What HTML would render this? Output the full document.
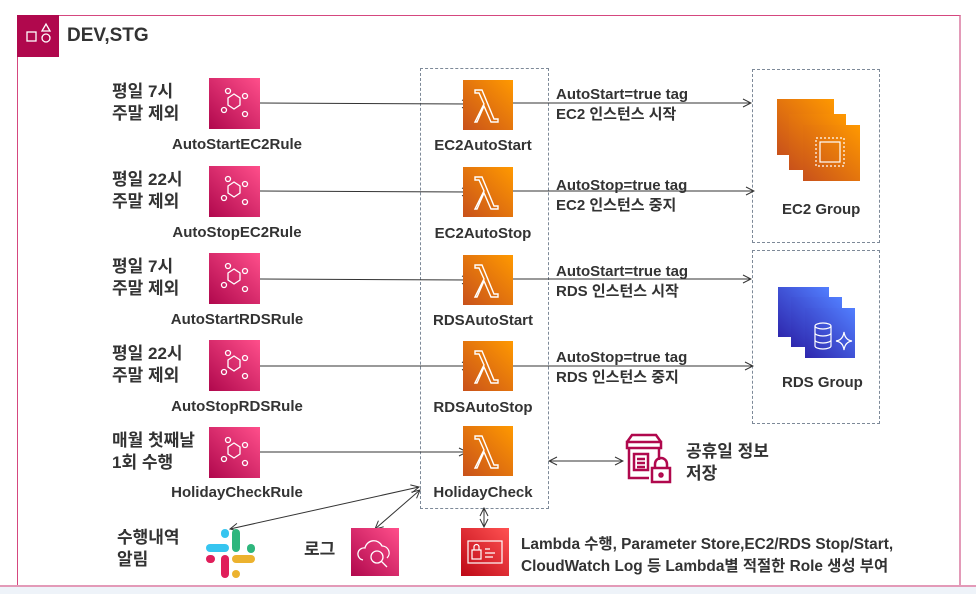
<!DOCTYPE html>
<html><head><meta charset="utf-8"><style>
body{margin:0;width:976px;height:592px;background:#fff;position:relative;overflow:hidden;font-family:"Liberation Sans","Noto Sans CJK KR",sans-serif;color:#232f3e}
.a{position:absolute}
.t{position:absolute;font-weight:bold;font-size:15px;color:#333;white-space:nowrap}
.k{position:absolute;font-weight:bold;font-size:17px;color:#333;line-height:22px;white-space:nowrap}
.ic{position:absolute;width:51px;height:51px}
.rule{background:linear-gradient(45deg,#b0084d,#ff4f8b)}
.lam{background:linear-gradient(45deg,#c8511b,#ff9900)}
.c{text-align:center;width:160px}
</style></head><body>
<div class="a" style="left:17px;top:15px;width:941px;height:569px;border:1px solid #d5477f;border-right:2px solid #e39ab8"></div>
<div class="a" style="left:0;top:585px;width:976px;height:7px;background:#eef3f9;border-top:2px solid #e39ab8"></div>
<div class="a" style="left:17px;top:15px;width:42px;height:42px;background:#b0084d"></div>
<svg class="a" style="left:17px;top:15px" width="42" height="42" fill="none" stroke="#fff" stroke-width="1.3"><rect x="10" y="17" width="9" height="9"/><path d="M25 16l4-7 4 7z"/><circle cx="29" cy="23" r="4"/></svg>
<div class="t" style="left:67px;top:25px;font-size:19px">DEV,STG</div>

<div class="a" style="left:420px;top:68px;width:127px;height:439px;border:1px dashed #7d8998"></div>
<div class="a" style="left:752px;top:69px;width:126px;height:172px;border:1px dashed #7d8998"></div>
<div class="a" style="left:752px;top:250px;width:126px;height:172px;border:1px dashed #7d8998"></div>

<svg class="a" style="left:0;top:0" width="976" height="592" fill="none" stroke="#333" stroke-width="1">
<defs><marker id="m" markerWidth="10" markerHeight="10" refX="9" refY="5" orient="auto-start-reverse"><path d="M1 1L9 5L1 9" stroke="#333" fill="none"/></marker></defs>
<g marker-end="url(#m)">
<line x1="260" y1="103" x2="470" y2="104"/>
<line x1="260" y1="191" x2="470" y2="192"/>
<line x1="260" y1="279" x2="470" y2="280"/>
<line x1="260" y1="366" x2="470" y2="366"/>
<line x1="260" y1="452" x2="467" y2="452"/>
<line x1="513" y1="103" x2="751" y2="103"/>
<line x1="513" y1="191" x2="754" y2="191"/>
<line x1="513" y1="279" x2="751" y2="279"/>
<line x1="513" y1="366" x2="753" y2="366"/>
</g>
<g marker-end="url(#m)" marker-start="url(#m)">
<line x1="549" y1="461" x2="623" y2="461"/>
<line x1="419" y1="487" x2="230" y2="529"/>
<line x1="420" y1="490" x2="375" y2="529"/>
<line x1="484" y1="508" x2="484" y2="527"/>
</g>
</svg>

<div class="ic rule" style="left:209px;top:78px"></div>
<div class="ic rule" style="left:209px;top:166px"></div>
<div class="ic rule" style="left:209px;top:253px"></div>
<div class="ic rule" style="left:209px;top:340px"></div>
<div class="ic rule" style="left:209px;top:427px"></div>
<svg class="a" style="left:0;top:0" width="976" height="592" fill="none" stroke="#fff" stroke-width="1.3">
<g id="r"><path d="M228 98l6-4 6 4v7l-6 4-6-4z"/><circle cx="228" cy="91" r="2.5"/><circle cx="245" cy="96" r="2.5"/><circle cx="224" cy="110" r="2.5"/><circle cx="245" cy="114" r="2.5"/></g>
<use href="#r" y="88"/><use href="#r" y="175"/><use href="#r" y="262"/><use href="#r" y="349"/>
</svg>
<div class="k" style="left:112px;top:81px">평일 7시<br>주말 제외</div>
<div class="k" style="left:112px;top:169px">평일 22시<br>주말 제외</div>
<div class="k" style="left:112px;top:256px">평일 7시<br>주말 제외</div>
<div class="k" style="left:112px;top:343px">평일 22시<br>주말 제외</div>
<div class="k" style="left:112px;top:430px">매월 첫째날<br>1회 수행</div>
<div class="t c" style="left:157px;top:136px">AutoStartEC2Rule</div>
<div class="t c" style="left:157px;top:224px">AutoStopEC2Rule</div>
<div class="t c" style="left:157px;top:311px">AutoStartRDSRule</div>
<div class="t c" style="left:157px;top:398px">AutoStopRDSRule</div>
<div class="t c" style="left:157px;top:484px">HolidayCheckRule</div>

<div class="ic lam" style="left:463px;top:80px;width:50px;height:50px"></div>
<div class="ic lam" style="left:463px;top:167px;width:50px;height:50px"></div>
<div class="ic lam" style="left:463px;top:255px;width:50px;height:50px"></div>
<div class="ic lam" style="left:463px;top:341px;width:50px;height:50px"></div>
<div class="ic lam" style="left:463px;top:426px;width:50px;height:50px"></div>
<svg class="a" style="left:0;top:0" width="976" height="592" fill="none" stroke="#fff" stroke-width="1.4">
<path id="l" d="M475 122l9-18-5-11h-4v-3h7l12 29h4v3h-7l-7-16-7 16z"/>
<use href="#l" y="87"/><use href="#l" y="175"/><use href="#l" y="261"/><use href="#l" y="346"/>
</svg>
<div class="t c" style="left:403px;top:137px">EC2AutoStart</div>
<div class="t c" style="left:403px;top:225px">EC2AutoStop</div>
<div class="t c" style="left:403px;top:312px">RDSAutoStart</div>
<div class="t c" style="left:403px;top:399px">RDSAutoStop</div>
<div class="t c" style="left:403px;top:484px">HolidayCheck</div>

<div class="t" style="left:556px;top:85px;line-height:20px">AutoStart=true tag<br>EC2 인스턴스 시작</div>
<div class="t" style="left:556px;top:176px;line-height:20px">AutoStop=true tag<br>EC2 인스턴스 중지</div>
<div class="t" style="left:556px;top:262px;line-height:20px">AutoStart=true tag<br>RDS 인스턴스 시작</div>
<div class="t" style="left:556px;top:348px;line-height:20px">AutoStop=true tag<br>RDS 인스턴스 중지</div>

<div class="a" style="left:777px;top:99px;width:57px;height:56px;background:linear-gradient(45deg,#c8511b,#ff9900)"></div>
<div class="a" style="left:789px;top:114px;width:57px;height:56px;background:linear-gradient(45deg,#c8511b,#ff9900)"></div>
<div class="a" style="left:803px;top:125px;width:57px;height:56px;background:linear-gradient(45deg,#c8511b,#ff9900)"></div>
<svg class="a" style="left:0;top:0" width="976" height="592" fill="none" stroke="#fff" stroke-width="1.2"><rect x="820" y="142" width="20" height="20"/><rect x="816" y="138" width="28" height="28" stroke-dasharray="2 2"/></svg>
<div class="t" style="left:782px;top:201px">EC2 Group</div>
<div class="a" style="left:778px;top:287px;width:51px;height:50px;background:linear-gradient(45deg,#2e27ad,#527fff)"></div>
<div class="a" style="left:791px;top:297px;width:51px;height:50px;background:linear-gradient(45deg,#2e27ad,#527fff)"></div>
<div class="a" style="left:805px;top:308px;width:50px;height:50px;background:linear-gradient(45deg,#2e27ad,#527fff)"></div>
<svg class="a" style="left:0;top:0" width="976" height="592" fill="none" stroke="#fff" stroke-width="1.2"><ellipse cx="823" cy="326" rx="8" ry="3"/><path d="M815 326v20a8 3 0 0 0 16 0v-20M815 333a8 3 0 0 0 16 0M815 340a8 3 0 0 0 16 0M844 332q1 8 8 9q-7 1-8 9q-1-8-8-9q7-1 8-9z"/></svg>
<div class="t" style="left:782px;top:374px">RDS Group</div>

<svg class="a" style="left:622px;top:432px" width="56" height="56" fill="none" stroke="#b0084d" stroke-width="2.5"><path d="M5 10h34v6H5zM7 16v30h20M37 16v12M5 10l5-7h24l5 7"/><rect x="12" y="22" width="14" height="16"/><path d="M15 27h8M15 31h8M15 35h8"/><rect x="30" y="36" width="18" height="14"/><path d="M33 36v-4a6 6 0 0 1 12 0v4"/><circle cx="39" cy="43" r="1.5"/></svg>
<div class="k" style="left:686px;top:441px">공휴일 정보<br>저장</div>

<svg class="a" style="left:205px;top:528px" width="52" height="52"><g stroke-linecap="round" stroke-width="8"><line x1="5" y1="20" x2="20" y2="20" stroke="#36c5f0"/><line x1="20" y1="5" x2="20" y2="6" stroke="#36c5f0"/><line x1="31" y1="5" x2="31" y2="20" stroke="#2eb67d"/><line x1="46" y1="20" x2="46" y2="21" stroke="#2eb67d"/><line x1="31" y1="31" x2="46" y2="31" stroke="#ecb22e"/><line x1="31" y1="46" x2="31" y2="46" stroke="#ecb22e"/><line x1="20" y1="31" x2="20" y2="46" stroke="#e01e5a"/><line x1="5" y1="31" x2="6" y2="31" stroke="#e01e5a"/></g></svg>
<div class="k" style="left:117px;top:527px">수행내역<br>알림</div>
<div class="k" style="left:304px;top:539px">로그</div>
<div class="ic rule" style="left:351px;top:528px;width:48px;height:48px"></div>
<svg class="a" style="left:351px;top:528px" width="48" height="48" fill="none" stroke="#fff" stroke-width="1.3"><path d="M12 32a6 6 0 0 1 2-12a9 9 0 0 1 17-2a7 7 0 0 1 5 12"/><circle cx="26" cy="29" r="6"/><path d="M30 33l6 6"/></svg>
<div class="ic" style="left:461px;top:528px;width:48px;height:48px;background:linear-gradient(45deg,#bd0816,#ff5252)"></div>
<svg class="a" style="left:461px;top:528px" width="48" height="48" fill="none" stroke="#fff" stroke-width="1.2"><rect x="7" y="13" width="34" height="22"/><rect x="11" y="22" width="9" height="9"/><path d="M13 22v-3a2.5 2.5 0 0 1 5 0v3M24 21h5M24 25h10M24 29h8"/></svg>
<div class="t" style="left:521px;top:534px;line-height:22px;font-size:15.4px">Lambda 수행, Parameter Store,EC2/RDS Stop/Start,<br>CloudWatch Log 등 Lambda별 적절한 Role 생성 부여</div>
</body></html>
